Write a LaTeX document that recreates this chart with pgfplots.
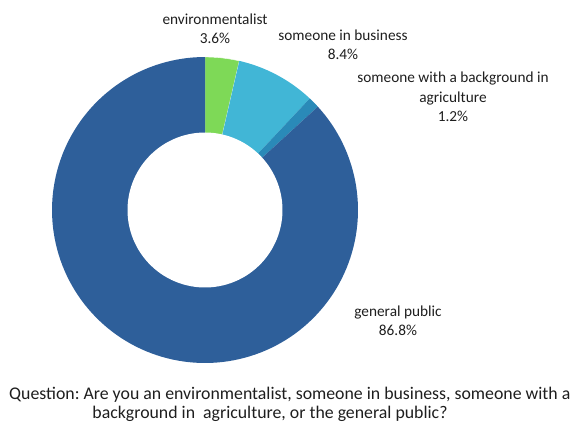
\documentclass[border=0pt]{standalone}
\usepackage{pgfplots}
\pgfplotsset{compat=1.18}
\usepackage{fontspec}
\setmainfont{Carlito}
\frenchspacing
\definecolor{cEnv}{RGB}{126,217,87}
\definecolor{cBus}{RGB}{65,182,214}
\definecolor{cAgr}{RGB}{42,138,184}
\definecolor{cPub}{RGB}{46,95,154}
\definecolor{txt}{RGB}{30,30,30}
\begin{document}
\begin{tikzpicture}
\begin{axis}[
  at={(0,0)}, anchor=south west,
  scale only axis, width=570pt, height=429pt,
  xmin=0, xmax=570, ymin=0, ymax=429,
  hide axis, clip=false,
]
% values (percent): environmentalist 3.6, business 8.4, agriculture 1.2, general public 86.8
\def\cx{205}\def\cy{219}\def\R{153}\def\r{77.5}
\addplot[fill=cEnv, draw=white, line width=0.4pt, domain={0}:{3.6*3.6}, samples=20, variable=\t]
  ({\cx+\R*sin(\t)},{\cy+\R*cos(\t)}) -- (\cx,\cy) -- cycle;
\addplot[fill=cBus, draw=none, domain={3.6*3.6}:{(3.6+8.4)*3.6}, samples=30, variable=\t]
  ({\cx+\R*sin(\t)},{\cy+\R*cos(\t)}) -- (\cx,\cy) -- cycle;
\addplot[fill=cAgr, draw=none, domain={(3.6+8.4)*3.6}:{(3.6+8.4+1.2)*3.6}, samples=10, variable=\t]
  ({\cx+\R*sin(\t)},{\cy+\R*cos(\t)}) -- (\cx,\cy) -- cycle;
\addplot[fill=cPub, draw=none, domain={(3.6+8.4+1.2)*3.6}:{360}, samples=150, variable=\t]
  ({\cx+\R*sin(\t)},{\cy+\R*cos(\t)}) -- (\cx,\cy) -- cycle;
\addplot[fill=white, draw=none, domain=0:360, samples=120, variable=\t]
  ({\cx+\r*sin(\t)},{\cy+\r*cos(\t)}) -- cycle;
% labels
\node[txt, font=\fontsize{15.3}{19.5}\selectfont, align=center] at (axis cs:215,400) {environmentalist\\3.6\%};
\node[txt, font=\fontsize{15.3}{19.5}\selectfont, align=center] at (axis cs:343,384) {someone in business\\8.4\%};
\node[txt, font=\fontsize{15.3}{19.5}\selectfont, align=center] at (axis cs:453,332) {someone with a background in\\agriculture\\1.2\%};
\node[txt, font=\fontsize{15.3}{19.5}\selectfont, align=center] at (axis cs:398,108) {general public\\86.8\%};
\node[txt, font=\fontsize{17.8}{21}\selectfont, anchor=west, inner sep=0pt] at (axis cs:9,34) {Question: Are you an environmentalist, someone in business, someone with a};
\node[txt, font=\fontsize{17.8}{21}\selectfont] at (axis cs:270,15) {background in\ \ agriculture, or the general public?};
\end{axis}
\pgfresetboundingbox
\path (0,0) rectangle (570pt,429pt);
\end{tikzpicture}
\end{document}
